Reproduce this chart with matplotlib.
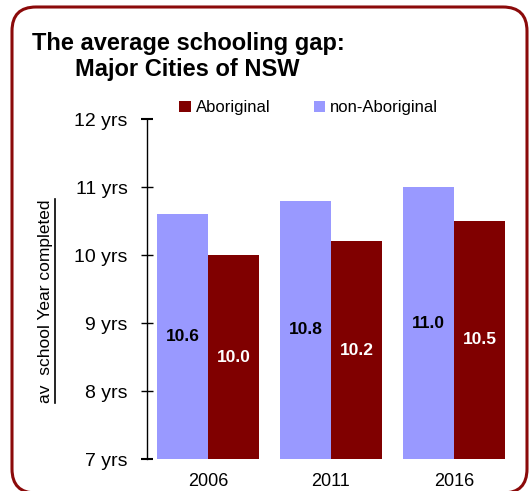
import matplotlib
matplotlib.use("Agg")
import matplotlib.pyplot as plt
import matplotlib.patches as patches
from matplotlib.lines import Line2D
from matplotlib.transforms import IdentityTransform
import numpy as np

plt.rcParams['font.family'] = ['Liberation Sans', 'DejaVu Sans']

# dati
years = ['2006', '2011', '2016']
non_aboriginal = [10.6, 10.8, 11.0]
aboriginal = [10.0, 10.2, 10.5]
ytick_vals = [7, 8, 9, 10, 11, 12]
ytick_labels = ['7 yrs', '8 yrs', '9 yrs', '10 yrs', '11 yrs', '12 yrs']

col_non = '#9999FF'
col_abo = '#800000'

W, H = 532, 491
fig = plt.figure(figsize=(W / 100, H / 100), dpi=100)

# cornice arrotondata (coordinate in pixel)
frame = patches.FancyBboxPatch(
    (12, -2), 515, 491 - 7 + 2,
    boxstyle="round,pad=0,rounding_size=24",
    transform=IdentityTransform(), linewidth=2.2,
    edgecolor='#8B0A0A', facecolor='none', zorder=0
)
fig.patches.append(frame)

ax = fig.add_axes([147 / W, 1 - 459 / H, 368 / W, 340 / H])

x = np.arange(len(years))
bw = 0.415
b_non = ax.bar(x - bw / 2, np.array(non_aboriginal) - 7, bw, bottom=7,
               color=col_non, label='non-Aboriginal')
b_abo = ax.bar(x + bw / 2, np.array(aboriginal) - 7, bw, bottom=7,
               color=col_abo, label='Aboriginal')

ax.bar_label(b_non, labels=[f'{v:.1f}' for v in non_aboriginal],
             label_type='center', fontsize=12.5, fontweight='bold', color='black')
ax.bar_label(b_abo, labels=[f'{v:.1f}' for v in aboriginal],
             label_type='center', fontsize=12.5, fontweight='bold', color='white')

ax.set_ylim(7, 12)
ax.set_xlim(-0.496, 2.496)
ax.set_yticks(ytick_vals)
ax.set_yticklabels(ytick_labels, fontsize=14)
ax.tick_params(axis='y', direction='inout', length=9, width=1, pad=9.5)
ax.set_xticks(x)
ax.set_xticklabels(years, fontsize=13)
ax.tick_params(axis='x', length=0, pad=10)

for s in ['top', 'right', 'bottom']:
    ax.spines[s].set_visible(False)
ax.spines['left'].set_linewidth(1)

# tick agli estremi in grigio
yt = ax.yaxis.get_major_ticks()
for i in (0, len(yt) - 1):
    yt[i].tick1line.set_color('#999999')
    yt[i].tick1line.set_markeredgewidth(1.5)

# titolo
fig.text(32 / W, 1 - 32 / H, 'The average schooling gap:', fontsize=17,
         fontweight='bold', va='top', ha='left')
fig.text(75 / W, 1 - 58 / H, 'Major Cities of NSW', fontsize=17,
         fontweight='bold', va='top', ha='left')

# legenda
fig.legend(handles=[b_abo, b_non], labels=['Aboriginal', 'non-Aboriginal'],
           loc='center left', bbox_to_anchor=(179 / W, 1 - 108 / H), ncol=2,
           frameon=False, fontsize=12, handlelength=0.7, handleheight=0.7,
           handletextpad=0.3, columnspacing=2.6, borderpad=0, borderaxespad=0)

# etichetta asse y sottolineata
ylab = fig.text(46 / W, 1 - 301 / H, 'av  school Year completed', fontsize=12.5,
                rotation=90, ha='center', va='center')
fig.canvas.draw()
bb = ylab.get_window_extent()
ux = bb.x1 + 1
fig.add_artist(Line2D([ux, ux], [bb.y0, bb.y1], transform=IdentityTransform(),
                      color='black', linewidth=1.2))

fig.savefig('out.png', dpi=100)
